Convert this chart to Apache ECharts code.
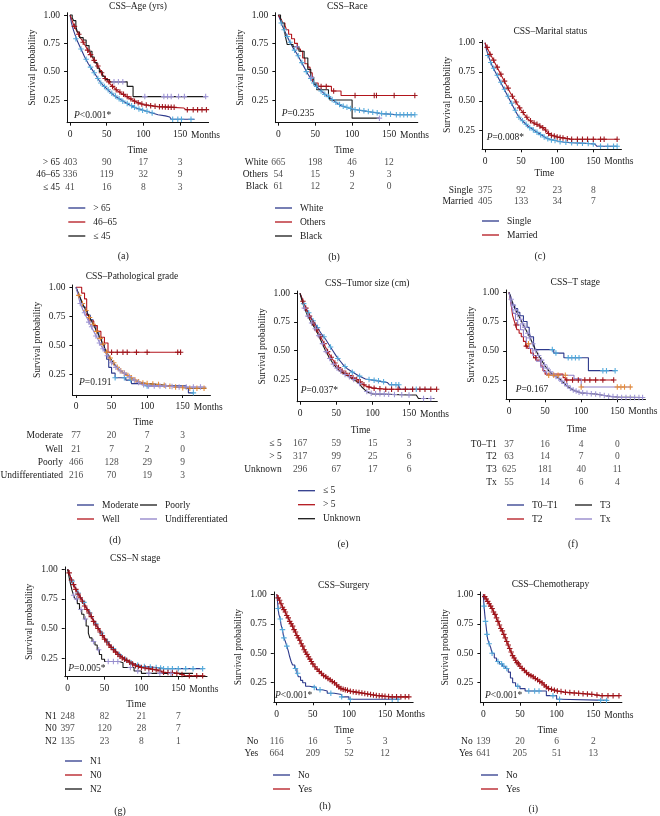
<!DOCTYPE html>
<html><head><meta charset="utf-8">
<script src="https://cdn.jsdelivr.net/npm/echarts@6/dist/echarts.min.js"></script>
<style>html,body{margin:0;padding:0;background:#fff}#c{width:660px;height:816px}</style>
</head><body><div id="c"></div>
<script>
// ---------------- DATA ----------------
const riskTimes = [0, 50, 100, 150];
const xTicks = [0, 50, 100, 150];
const yTicks = [0.25, 0.5, 0.75, 1];

// (a) Age
const age_groups = ['> 65', '46–65', '≤ 45'];
const age_gt65 = [[0,1],[2,0.93],[5,0.86],[10,0.77],[15,0.70],[20,0.63],[25,0.57],[30,0.52],[35,0.47],[40,0.42],[45,0.38],[50,0.35],[55,0.32],[60,0.29],[70,0.25],[80,0.21],[90,0.18],[100,0.16],[110,0.14],[120,0.12],[130,0.11],[136,0.10],[138,0.08],[170,0.08]];
const age_gt65_c = [[8,0.79],[15,0.70],[22,0.61],[28,0.54],[33,0.49],[38,0.44],[42,0.40],[47,0.37],[52,0.34],[57,0.31],[62,0.285],[67,0.26],[72,0.24],[78,0.22],[84,0.20],[88,0.185],[94,0.17],[99,0.16],[105,0.15],[112,0.135],[140,0.08],[147,0.08],[152,0.08],[165,0.08]];
const age_4665 = [[0,1],[3,0.95],[5,0.91],[10,0.85],[15,0.79],[20,0.74],[25,0.68],[30,0.63],[35,0.58],[40,0.53],[45,0.47],[50,0.43],[55,0.39],[60,0.36],[65,0.33],[70,0.31],[75,0.29],[80,0.27],[85,0.25],[90,0.235],[95,0.22],[100,0.21],[110,0.20],[120,0.19],[140,0.185],[155,0.18],[158,0.165],[186,0.165]];
const age_4665_c = [[6,0.90],[12,0.83],[18,0.76],[24,0.69],[28,0.65],[33,0.60],[38,0.55],[43,0.49],[48,0.44],[53,0.41],[58,0.37],[63,0.34],[68,0.32],[73,0.30],[78,0.28],[83,0.26],[88,0.24],[93,0.225],[98,0.215],[104,0.205],[110,0.20],[116,0.195],[122,0.19],[126,0.19],[130,0.188],[134,0.187],[138,0.186],[142,0.185],[160,0.165],[168,0.165],[174,0.165],[180,0.165],[186,0.165]];
const age_le45 = [[0,1],[3,0.975],[5,0.95],[8,0.90],[10,0.85],[13,0.80],[18,0.78],[22,0.73],[26,0.68],[30,0.63],[33,0.58],[37,0.53],[40,0.50],[44,0.46],[48,0.43],[54,0.41],[78,0.37],[86,0.28],[185,0.28]];
const age_le45_c = [[60,0.41],[66,0.41],[72,0.41],[102,0.28],[128,0.28],[133,0.28],[138,0.28],[148,0.28],[156,0.28],[185,0.28]];
const age_risk = [[403,90,17,3],[336,119,32,9],[41,16,8,3]];

// (b) Race
const race_groups = ['White', 'Others', 'Black'];
const race_white = [[0,1],[3,0.95],[5,0.91],[10,0.84],[15,0.77],[20,0.71],[25,0.66],[30,0.60],[35,0.54],[40,0.48],[45,0.43],[50,0.38],[55,0.35],[60,0.32],[65,0.29],[70,0.27],[75,0.245],[80,0.22],[85,0.20],[90,0.19],[100,0.17],[110,0.16],[120,0.15],[130,0.14],[140,0.13],[150,0.125],[160,0.12],[185,0.12]];
const race_white_c = [[4,0.93],[8,0.87],[12,0.81],[16,0.76],[22,0.69],[27,0.64],[32,0.58],[38,0.50],[44,0.44],[48,0.40],[52,0.37],[58,0.33],[63,0.30],[68,0.28],[73,0.255],[78,0.23],[83,0.21],[88,0.195],[93,0.185],[98,0.175],[104,0.165],[110,0.16],[116,0.155],[122,0.148],[128,0.142],[134,0.137],[140,0.13],[146,0.127],[152,0.124],[160,0.12],[165,0.12],[170,0.12],[175,0.12],[180,0.12],[185,0.12]];
const race_others = [[0,1],[2,0.98],[4,0.96],[6,0.93],[9,0.91],[11,0.87],[14,0.83],[18,0.79],[22,0.75],[26,0.70],[30,0.68],[33,0.62],[36,0.57],[40,0.54],[43,0.49],[46,0.44],[48,0.40],[54,0.37],[72,0.33],[85,0.29],[185,0.29]];
const race_others_c = [[58,0.37],[65,0.37],[75,0.33],[104,0.29],[130,0.29],[133,0.29],[157,0.29],[185,0.29]];
const race_black = [[0,1],[3,0.97],[5,0.93],[8,0.87],[10,0.80],[12,0.74],[20,0.72],[28,0.68],[35,0.62],[40,0.52],[44,0.45],[48,0.39],[52,0.34],[68,0.30],[70,0.25],[100,0.09],[137,0.09]];
const race_black_c = [[25,0.72],[45,0.45],[137,0.09]];
const race_risk = [[665,198,46,12],[54,15,9,3],[61,12,2,0]];

// (c) Marital status
const ms_groups = ['Single', 'Married'];
const ms_single = [[0,1],[2,0.94],[5,0.88],[10,0.80],[15,0.74],[20,0.68],[25,0.62],[30,0.56],[35,0.50],[40,0.44],[45,0.38],[50,0.34],[55,0.31],[60,0.28],[65,0.26],[70,0.24],[75,0.22],[80,0.20],[85,0.18],[90,0.17],[100,0.155],[110,0.145],[120,0.14],[140,0.135],[152,0.13],[155,0.11],[183,0.11]];
const ms_single_c = [[4,0.89],[8,0.83],[12,0.78],[17,0.72],[22,0.66],[27,0.60],[32,0.54],[37,0.48],[42,0.42],[47,0.36],[52,0.33],[57,0.30],[62,0.27],[67,0.25],[72,0.23],[77,0.21],[82,0.19],[87,0.175],[92,0.165],[97,0.16],[104,0.15],[112,0.145],[120,0.14],[128,0.138],[135,0.136],[143,0.134],[150,0.13],[160,0.11],[170,0.11],[178,0.11],[183,0.11]];
const ms_married = [[0,1],[2,0.97],[5,0.93],[10,0.87],[15,0.81],[20,0.75],[25,0.69],[30,0.63],[35,0.57],[40,0.52],[45,0.47],[50,0.42],[55,0.38],[60,0.34],[65,0.32],[70,0.30],[75,0.29],[80,0.27],[85,0.24],[90,0.21],[95,0.20],[100,0.19],[110,0.18],[120,0.17],[183,0.17]];
const ms_married_c = [[3,0.96],[7,0.90],[12,0.85],[17,0.79],[22,0.73],[27,0.67],[32,0.61],[38,0.54],[43,0.49],[48,0.44],[53,0.40],[58,0.36],[63,0.33],[68,0.31],[72,0.30],[76,0.285],[80,0.27],[84,0.25],[88,0.22],[92,0.205],[96,0.198],[100,0.19],[104,0.185],[108,0.182],[114,0.175],[120,0.17],[128,0.17],[135,0.17],[142,0.17],[150,0.17],[160,0.17],[165,0.17],[183,0.17]];
const ms_risk = [[375,92,23,8],[405,133,34,7]];

// (d) Pathological grade
const pg_groups = ['Moderate', 'Well', 'Poorly', 'Undifferentiated'];
const pg_moderate = [[0,1],[2,0.97],[4,0.94],[6,0.91],[8,0.87],[10,0.83],[13,0.80],[16,0.76],[20,0.72],[24,0.67],[28,0.62],[32,0.57],[36,0.51],[40,0.45],[43,0.38],[46,0.31],[50,0.26],[55,0.22],[70,0.20],[78,0.17],[100,0.15],[155,0.13],[158,0.09],[165,0.09]];
const pg_moderate_c = [[55,0.22],[68,0.22],[77,0.20],[100,0.15],[165,0.09]];
const pg_well = [[0,1],[8,0.95],[12,0.90],[15,0.76],[18,0.71],[25,0.67],[30,0.62],[35,0.57],[40,0.52],[45,0.44],[148,0.44]];
const pg_well_c = [[50,0.44],[58,0.44],[66,0.44],[72,0.44],[85,0.44],[100,0.44],[143,0.44],[147,0.44]];
const pg_poorly = [[0,1],[3,0.95],[5,0.92],[10,0.85],[15,0.79],[20,0.73],[25,0.67],[30,0.61],[35,0.55],[40,0.48],[45,0.42],[50,0.37],[55,0.33],[60,0.29],[65,0.27],[70,0.25],[75,0.23],[80,0.21],[90,0.18],[100,0.17],[110,0.165],[120,0.16],[140,0.14],[160,0.13],[183,0.13]];
const pg_poorly_c = [[4,0.93],[9,0.86],[14,0.80],[19,0.74],[24,0.68],[29,0.62],[34,0.56],[38,0.51],[43,0.44],[48,0.39],[53,0.35],[58,0.31],[63,0.28],[68,0.26],[73,0.24],[78,0.22],[83,0.20],[88,0.185],[94,0.175],[100,0.17],[108,0.166],[116,0.162],[124,0.156],[132,0.148],[140,0.14],[150,0.135],[160,0.13],[170,0.13],[180,0.13]];
const pg_undiff = [[0,1],[3,0.93],[5,0.88],[10,0.80],[15,0.74],[20,0.68],[25,0.62],[30,0.56],[35,0.50],[40,0.45],[45,0.40],[50,0.35],[55,0.32],[60,0.29],[70,0.25],[80,0.21],[90,0.17],[100,0.15],[130,0.15],[140,0.14],[183,0.14]];
const pg_undiff_c = [[6,0.86],[12,0.78],[18,0.70],[22,0.66],[28,0.58],[33,0.52],[38,0.47],[44,0.41],[50,0.35],[56,0.31],[62,0.28],[68,0.26],[75,0.23],[82,0.20],[88,0.18],[95,0.16],[102,0.15],[110,0.15],[118,0.15],[126,0.15],[135,0.145],[145,0.14],[155,0.14],[165,0.14],[175,0.14]];
const pg_risk = [[77,20,7,3],[21,7,2,0],[466,128,29,9],[216,70,19,3]];

// (e) Tumor size
const ts_groups = ['≤ 5', '> 5', 'Unknown'];
const ts_le5 = [[0,1],[3,0.95],[5,0.91],[10,0.85],[15,0.79],[20,0.74],[25,0.69],[30,0.64],[35,0.60],[40,0.55],[45,0.50],[50,0.45],[55,0.41],[60,0.37],[65,0.34],[70,0.32],[75,0.30],[80,0.28],[90,0.25],[100,0.24],[120,0.22],[123,0.20],[135,0.20],[138,0.16],[180,0.16]];
const ts_le5_c = [[5,0.91],[12,0.83],[18,0.76],[24,0.70],[33,0.62],[42,0.53],[52,0.43],[62,0.36],[72,0.31],[82,0.275],[95,0.245],[102,0.24],[108,0.235],[115,0.225],[126,0.20],[132,0.20],[136,0.20],[160,0.16]];
const ts_gt5 = [[0,1],[3,0.95],[5,0.92],[10,0.84],[15,0.78],[20,0.72],[25,0.66],[30,0.60],[35,0.53],[40,0.47],[45,0.42],[50,0.37],[55,0.34],[60,0.31],[65,0.29],[70,0.27],[75,0.255],[80,0.24],[85,0.21],[90,0.19],[100,0.17],[110,0.165],[120,0.16],[188,0.16]];
const ts_gt5_c = [[4,0.93],[8,0.87],[13,0.80],[18,0.74],[23,0.68],[28,0.62],[33,0.56],[38,0.49],[43,0.44],[48,0.39],[53,0.35],[58,0.32],[63,0.30],[68,0.28],[73,0.26],[78,0.245],[83,0.225],[88,0.20],[95,0.18],[102,0.17],[110,0.165],[118,0.16],[126,0.16],[135,0.16],[145,0.16],[155,0.16],[165,0.16],[172,0.16],[180,0.16],[188,0.16]];
const ts_unk = [[0,1],[3,0.93],[5,0.89],[10,0.81],[15,0.75],[20,0.70],[25,0.64],[30,0.57],[35,0.50],[40,0.44],[45,0.39],[50,0.35],[55,0.32],[60,0.30],[65,0.28],[70,0.26],[75,0.24],[80,0.22],[85,0.18],[90,0.15],[95,0.13],[100,0.12],[150,0.11],[160,0.11],[163,0.08],[185,0.08]];
const ts_unk_c = [[6,0.87],[11,0.80],[16,0.74],[21,0.69],[26,0.63],[31,0.56],[36,0.49],[41,0.43],[46,0.38],[51,0.345],[56,0.32],[62,0.29],[68,0.27],[74,0.245],[82,0.21],[92,0.14],[98,0.125],[104,0.12],[110,0.12],[116,0.118],[122,0.117],[130,0.115],[140,0.112],[150,0.11],[170,0.08],[180,0.08]];
const ts_risk = [[167,59,15,3],[317,99,25,6],[296,67,17,6]];

// (f) T stage
const tst_groups = ['T0–T1', 'T2', 'T3', 'Tx'];
const tst_t01 = [[0,1],[2,0.97],[3,0.95],[5,0.89],[8,0.86],[12,0.83],[15,0.80],[20,0.75],[25,0.70],[28,0.65],[30,0.62],[34,0.57],[36,0.51],[62,0.48],[76,0.44],[110,0.33],[147,0.33]];
const tst_t01_c = [[60,0.51],[65,0.48],[82,0.44],[87,0.44],[92,0.44],[97,0.44],[130,0.33],[135,0.33],[147,0.33]];
const tst_t2 = [[0,1],[2,0.93],[4,0.85],[5,0.80],[7,0.76],[9,0.72],[11,0.68],[14,0.65],[17,0.62],[20,0.58],[23,0.54],[26,0.52],[30,0.48],[34,0.44],[38,0.42],[44,0.37],[47,0.33],[50,0.30],[75,0.27],[78,0.25],[145,0.25]];
const tst_t2_c = [[10,0.72],[24,0.54],[37,0.44],[80,0.25],[88,0.25],[96,0.25],[105,0.25],[112,0.25],[120,0.25],[130,0.25],[145,0.25]];
const tst_t3 = [[0,1],[3,0.94],[5,0.91],[10,0.84],[15,0.78],[20,0.72],[25,0.66],[30,0.60],[35,0.53],[40,0.47],[45,0.42],[50,0.37],[55,0.33],[60,0.30],[65,0.28],[70,0.26],[75,0.23],[80,0.20],[85,0.18],[90,0.16],[100,0.14],[110,0.135],[120,0.13],[130,0.12],[140,0.11],[150,0.105],[185,0.10]];
const tst_t3_c = [[3,0.94],[6,0.89],[9,0.85],[12,0.81],[16,0.77],[19,0.73],[22,0.70],[26,0.65],[29,0.61],[33,0.56],[37,0.50],[41,0.46],[45,0.42],[49,0.38],[53,0.35],[57,0.32],[61,0.30],[65,0.28],[69,0.265],[73,0.24],[77,0.22],[81,0.20],[85,0.18],[89,0.165],[93,0.155],[97,0.145],[102,0.14],[108,0.136],[114,0.133],[120,0.13],[126,0.124],[132,0.118],[138,0.112],[144,0.108],[150,0.105],[156,0.10],[162,0.10],[168,0.10],[174,0.10],[180,0.10],[185,0.10]];
const tst_tx = [[0,1],[2,0.93],[4,0.87],[6,0.82],[9,0.76],[12,0.72],[16,0.68],[20,0.62],[24,0.56],[28,0.52],[33,0.46],[38,0.41],[44,0.36],[48,0.32],[52,0.29],[90,0.26],[100,0.19],[170,0.19]];
const tst_tx_c = [[27,0.56],[55,0.29],[62,0.29],[68,0.29],[78,0.29],[100,0.19],[150,0.19],[155,0.19],[160,0.19],[168,0.19]];
const tst_risk = [[37,16,4,0],[63,14,7,0],[625,181,40,11],[55,14,6,4]];

// (g) N stage
const ns_groups = ['N1', 'N0', 'N2'];
const ns_n1 = [[0,1],[3,0.95],[5,0.91],[10,0.85],[15,0.79],[20,0.74],[25,0.68],[30,0.63],[35,0.57],[40,0.52],[45,0.47],[50,0.42],[55,0.38],[60,0.34],[65,0.31],[70,0.28],[75,0.255],[80,0.23],[85,0.215],[90,0.20],[100,0.18],[110,0.175],[120,0.17],[130,0.16],[183,0.16]];
const ns_n1_c = [[6,0.90],[14,0.80],[22,0.72],[30,0.63],[38,0.54],[46,0.46],[54,0.39],[62,0.33],[70,0.28],[78,0.24],[86,0.21],[95,0.19],[104,0.178],[112,0.174],[120,0.17],[126,0.165],[130,0.16],[136,0.16],[142,0.16],[150,0.16],[160,0.16],[170,0.16],[183,0.16]];
const ns_n0 = [[0,1],[3,0.95],[5,0.91],[10,0.84],[15,0.78],[20,0.73],[25,0.67],[30,0.62],[35,0.56],[40,0.51],[45,0.46],[50,0.41],[55,0.37],[60,0.33],[65,0.30],[70,0.27],[75,0.25],[80,0.23],[85,0.21],[90,0.19],[100,0.17],[110,0.16],[120,0.15],[130,0.13],[140,0.125],[150,0.12],[160,0.10],[183,0.10]];
const ns_n0_c = [[2,0.97],[5,0.91],[8,0.87],[11,0.83],[14,0.79],[17,0.76],[20,0.73],[23,0.69],[26,0.66],[29,0.63],[32,0.60],[35,0.56],[38,0.53],[41,0.50],[44,0.47],[47,0.44],[50,0.41],[53,0.385],[56,0.36],[59,0.34],[62,0.32],[65,0.30],[68,0.28],[71,0.265],[74,0.25],[77,0.24],[80,0.23],[84,0.215],[88,0.20],[92,0.185],[96,0.178],[100,0.17],[105,0.165],[110,0.16],[115,0.155],[120,0.15],[125,0.14],[130,0.13],[136,0.127],[142,0.124],[148,0.12],[155,0.11],[165,0.10],[175,0.10],[183,0.10]];
const ns_n2 = [[0,1],[2,0.93],[4,0.87],[6,0.82],[8,0.78],[10,0.75],[13,0.71],[16,0.66],[19,0.62],[22,0.58],[25,0.52],[28,0.46],[30,0.42],[33,0.39],[37,0.36],[40,0.32],[43,0.28],[46,0.24],[50,0.22],[70,0.21],[75,0.17],[90,0.14],[100,0.12],[170,0.12]];
const ns_n2_c = [[8,0.78],[12,0.75],[18,0.66],[24,0.58],[35,0.39],[42,0.32],[55,0.22],[62,0.22],[68,0.22],[85,0.17],[95,0.14],[110,0.12],[125,0.12],[140,0.12]];
const ns_risk = [[248,82,21,7],[397,120,28,7],[135,23,8,1]];

// (h) Surgery
const sg_groups = ['No', 'Yes'];
const sg_no = [[0,1],[1,0.95],[2,0.88],[3,0.83],[5,0.79],[6,0.74],[8,0.70],[9,0.66],[10,0.63],[12,0.60],[14,0.56],[16,0.52],[18,0.47],[20,0.43],[22,0.40],[25,0.37],[28,0.33],[30,0.30],[33,0.27],[36,0.25],[40,0.22],[45,0.21],[55,0.19],[63,0.18],[70,0.16],[80,0.15],[90,0.13],[100,0.11],[170,0.11]];
const sg_no_c = [[2,0.88],[5,0.79],[8,0.70],[10,0.63],[14,0.56],[26,0.37],[29,0.33],[52,0.21],[60,0.19],[75,0.16],[90,0.13],[102,0.11],[160,0.11],[168,0.11]];
const sg_yes = [[0,1],[3,0.96],[5,0.93],[10,0.87],[15,0.81],[20,0.75],[25,0.69],[30,0.63],[35,0.57],[40,0.51],[45,0.46],[50,0.41],[55,0.37],[60,0.34],[65,0.31],[70,0.29],[75,0.27],[80,0.25],[85,0.22],[90,0.20],[95,0.19],[100,0.18],[110,0.17],[120,0.16],[130,0.15],[140,0.14],[150,0.135],[160,0.13],[183,0.13]];
const sg_yes_c = [[2,0.97],[4,0.95],[6,0.92],[8,0.89],[10,0.87],[12,0.85],[14,0.82],[16,0.80],[18,0.77],[20,0.75],[22,0.73],[24,0.70],[26,0.68],[28,0.65],[30,0.63],[32,0.61],[34,0.58],[36,0.56],[38,0.53],[40,0.51],[42,0.49],[44,0.47],[46,0.45],[48,0.43],[50,0.41],[53,0.385],[56,0.365],[59,0.345],[62,0.33],[65,0.31],[68,0.30],[71,0.285],[74,0.275],[77,0.26],[80,0.25],[83,0.23],[86,0.215],[89,0.20],[92,0.195],[95,0.19],[98,0.185],[102,0.178],[106,0.174],[110,0.17],[114,0.166],[118,0.162],[122,0.158],[126,0.154],[130,0.15],[134,0.146],[138,0.142],[142,0.14],[146,0.137],[150,0.135],[155,0.132],[160,0.13],[166,0.13],[172,0.13],[178,0.13],[183,0.13]];
const sg_risk = [[116,16,5,3],[664,209,52,12]];

// (i) Chemotherapy
const ch_groups = ['No', 'Yes'];
const ch_no = [[0,1],[1,0.90],[2,0.83],[3,0.77],[4,0.72],[5,0.66],[6,0.62],[8,0.58],[10,0.55],[12,0.50],[15,0.46],[18,0.43],[22,0.41],[26,0.39],[30,0.37],[34,0.34],[37,0.29],[40,0.25],[44,0.22],[50,0.20],[57,0.18],[86,0.14],[100,0.11],[105,0.10],[170,0.10]];
const ch_no_c = [[1,0.90],[3,0.77],[5,0.66],[8,0.58],[12,0.50],[20,0.43],[25,0.41],[28,0.39],[32,0.37],[47,0.22],[62,0.18],[70,0.18],[76,0.18],[95,0.14],[104,0.11],[160,0.10],[168,0.10]];
const ch_yes = [[0,1],[3,0.97],[5,0.95],[10,0.90],[15,0.84],[20,0.77],[25,0.70],[30,0.63],[35,0.55],[40,0.48],[45,0.43],[50,0.39],[55,0.36],[60,0.33],[65,0.31],[70,0.29],[75,0.27],[80,0.25],[85,0.22],[90,0.20],[100,0.18],[110,0.17],[120,0.165],[130,0.16],[150,0.15],[160,0.14],[185,0.14]];
const ch_yes_c = [[2,0.98],[4,0.96],[6,0.94],[8,0.92],[10,0.90],[12,0.88],[14,0.85],[16,0.83],[18,0.80],[20,0.77],[22,0.74],[24,0.71],[26,0.69],[28,0.66],[30,0.63],[32,0.60],[34,0.57],[36,0.54],[38,0.51],[40,0.48],[42,0.46],[44,0.44],[46,0.42],[48,0.41],[50,0.39],[53,0.37],[56,0.355],[59,0.335],[62,0.32],[65,0.31],[68,0.30],[71,0.285],[74,0.275],[77,0.26],[80,0.25],[83,0.23],[86,0.215],[89,0.20],[93,0.195],[97,0.187],[101,0.179],[106,0.175],[112,0.169],[118,0.166],[124,0.163],[130,0.16],[136,0.157],[142,0.154],[148,0.151],[155,0.145],[162,0.14],[170,0.14],[177,0.14],[185,0.14]];
const ch_risk = [[139,20,6,2],[641,205,51,13]];

// ---------------- STYLE / LAYOUT ----------------
const FONT = '"Liberation Serif","Times New Roman",serif';
const FS = 9.5;
const TXT = '#1a1a1a';
const NAVY = '#2e3a8c', RED = '#b3151c', BLACK = '#1a1a1a', PURPLE = '#8e80c8';
const LB = '#4fa8da', DR = '#9b1016', LAV = '#9c92d4', ORG = '#e8892f';
const PLUS = 'path://M4,0H6V4H10V6H6V10H4V6H0V4H4Z';

const panels = [
  {title:'CSS–Age (yrs)', groups:age_groups, curves:[age_gt65,age_4665,age_le45], cens:[age_gt65_c,age_4665_c,age_le45_c], step:[false,false,true], risk:age_risk, p:'{i|P}<0.001*',
   lc:[NAVY,RED,BLACK], mc:[LB,DR,LAV],
   L:{X0:70,X150:180,Y1:15,Y025:100,ymin:0.05,title:[138,6],time:[137.3,150],tab:[162,12.5,60],leg:[[68.3,208,[0,1,2]]],pv:[74,115],letter:[123.3,256.7],lab:'(a)'}},
  {title:'CSS–Race', groups:race_groups, curves:[race_white,race_others,race_black], cens:[race_white_c,race_others_c,race_black_c], step:[false,true,true], risk:race_risk, p:'{i|P}=0.235',
   lc:[NAVY,RED,BLACK], mc:[LB,DR,LAV],
   L:{X0:278.3,X150:389,Y1:15,Y025:100,ymin:0.05,title:[347.3,6],time:[344,150],tab:[162,12,268],leg:[[275,208,[0,1,2]]],pv:[281.7,113.3],letter:[334,257],lab:'(b)'}},
  {title:'CSS–Marital status', groups:ms_groups, curves:[ms_single,ms_married], cens:[ms_single_c,ms_married_c], step:[false,false], risk:ms_risk, p:'{i|P}=0.008*',
   lc:[NAVY,RED], mc:[LB,DR],
   L:{X0:485,X150:593.3,Y1:42.7,Y025:130,ymin:0.084,title:[550.3,31],time:[544.3,173.3],tab:[190,11.7,473],leg:[[482,221,[0,1]]],pv:[486.7,137.7],letter:[540,256.7],lab:'(c)'}},
  {title:'CSS–Pathological grade', groups:pg_groups, curves:[pg_moderate,pg_well,pg_poorly,pg_undiff], cens:[pg_moderate_c,pg_well_c,pg_poorly_c,pg_undiff_c], step:[true,true,false,false], risk:pg_risk, p:'{i|P}=0.191',
   lc:[NAVY,RED,BLACK,PURPLE], mc:[LB,DR,ORG,LAV],
   L:{X0:76,X150:182.7,Y1:287.3,Y025:374.3,ymin:0.072,xmin:-5,title:[132,276.7],time:[143.3,422.7],tab:[435.7,13.3,63],leg:[[77,505,[0,1]],[140,505,[2,3]]],pv:[79,382.7],letter:[115,540],lab:'(d)'}},
  {title:'CSS–Tumor size (cm)', groups:ts_groups, curves:[ts_le5,ts_gt5,ts_unk], cens:[ts_le5_c,ts_gt5_c,ts_unk_c], step:[false,false,false], risk:ts_risk, p:'{i|P}=0.037*',
   lc:[NAVY,RED,BLACK], mc:[LB,DR,LAV],
   L:{X0:300,X150:409,Y1:293.3,Y025:379,ymin:0.051,title:[367.2,283.3],time:[360.7,430.7],tab:[443.3,13,281.7],leg:[[298,490.7,[0,1,2]]],pv:[300.7,390.7],letter:[343,544],lab:'(e)'}},
  {title:'CSS–T stage', groups:tst_groups, curves:[tst_t01,tst_t2,tst_t3,tst_tx], cens:[tst_t01_c,tst_t2_c,tst_t3_c,tst_tx_c], step:[true,true,false,true], risk:tst_risk, p:'{i|P}=0.167',
   lc:[NAVY,RED,BLACK,PURPLE], mc:[LB,DR,LAV,ORG],
   L:{X0:509,X150:617.3,Y1:292.3,Y025:380,ymin:0.085,title:[575.3,282.7],time:[576.7,429],tab:[444,12.7,496.7],leg:[[507,505,[0,1]],[575,505,[2,3]]],pv:[515.7,389.3],letter:[573,544],lab:'(f)'}},
  {title:'CSS–N stage', groups:ns_groups, curves:[ns_n1,ns_n0,ns_n2], cens:[ns_n1_c,ns_n0_c,ns_n2_c], step:[false,false,true], risk:ns_risk, p:'{i|P}=0.005*',
   lc:[NAVY,RED,BLACK], mc:[LB,DR,LAV],
   L:{X0:67.7,X150:178.3,Y1:569.3,Y025:658,ymin:0.092,title:[135.2,558.3],time:[136,704.3],tab:[716,12.9,56.7],leg:[[65,761,[0,1,2]]],pv:[68.3,668.3],letter:[120,811],lab:'(g)'}},
  {title:'CSS–Surgery', groups:sg_groups, curves:[sg_no,sg_yes], cens:[sg_no_c,sg_yes_c], step:[true,false], risk:sg_risk, p:'{i|P}<0.001*',
   lc:[NAVY,RED], mc:[LB,DR],
   L:{X0:276.7,X150:385,Y1:594.3,Y025:682.7,ymin:0.084,title:[343.8,585],time:[344,730.7],tab:[741.7,11.6,258.3],leg:[[273,775,[0,1]]],pv:[275,695],letter:[325,806.7],lab:'(h)'}},
  {title:'CSS–Chemotherapy', groups:ch_groups, curves:[ch_no,ch_yes], cens:[ch_no_c,ch_yes_c], step:[true,false], risk:ch_risk, p:'{i|P}<0.001*',
   lc:[NAVY,RED], mc:[LB,DR],
   L:{X0:483.3,X150:593.3,Y1:594.3,Y025:682.7,ymin:0.08,title:[550.5,584.3],time:[547.3,730.7],tab:[741.7,11.6,472.7],leg:[[481,775,[0,1]]],pv:[485,695],letter:[533.3,809.3],lab:'(i)'}}
];

// ---------------- BUILD ----------------
const grid = [], xAxis = [], yAxis = [], series = [], legend = [], graphic = [];
function txt(x, y, text, opt) {
  opt = opt || {};
  graphic.push({type:'text', x, y, rotation: opt.rot || 0, silent:true,
    style:{text, fill:TXT, fontFamily:FONT, fontSize: opt.fs || FS,
      align: opt.align || 'center', verticalAlign:'middle',
      rich:{i:{fontStyle:'italic', fontFamily:FONT, fontSize: opt.fs || FS, fill:TXT}}}});
}

panels.forEach((P, k) => {
  const L = P.L;
  const xmin = L.xmin != null ? L.xmin : -4, xmax = 189, ymax = 1.02;
  const sx = (L.X150 - L.X0) / 150;
  const sy = (L.Y025 - L.Y1) / 0.75;
  const left = L.X0 + xmin * sx, width = (xmax - xmin) * sx;
  const top = L.Y1 - (ymax - 1) * sy, height = (ymax - L.ymin) * sy;
  const gi = grid.length;
  grid.push({left, top, width, height, containLabel:false, outerBoundsMode:'none'});
  xAxis.push({type:'value', gridIndex:gi, min:xmin, max:xmax,
    axisLine:{show:true, onZero:false, lineStyle:{color:'#111', width:1}},
    axisTick:{show:true, length:3, customValues:xTicks, lineStyle:{color:'#111'}},
    axisLabel:{show:true, customValues:xTicks, margin:7, fontSize:FS, fontFamily:FONT, color:TXT, hideOverlap:false},
    splitLine:{show:false}});
  yAxis.push({type:'value', gridIndex:gi, min:L.ymin, max:ymax,
    axisLine:{show:true, onZero:false, lineStyle:{color:'#111', width:1}},
    axisTick:{show:true, length:3, customValues:yTicks, lineStyle:{color:'#111'}},
    axisLabel:{show:true, customValues:yTicks, margin:7, fontSize:FS, fontFamily:FONT, color:TXT, formatter:v => v.toFixed(2)},
    splitLine:{show:false}});
  P.curves.forEach((c, j) => {
    series.push({type:'line', name:P.groups[j], xAxisIndex:gi, yAxisIndex:gi, data:c,
      step: P.step[j] ? 'end' : false, symbol:'none', silent:true, z:2,
      lineStyle:{color:P.lc[j], width:1.1}, itemStyle:{color:P.lc[j]}});
  });
  P.cens.forEach((c, j) => {
    series.push({type:'scatter', name:P.groups[j] + ' (censored)', xAxisIndex:gi, yAxisIndex:gi, data:c,
      symbol:PLUS, symbolSize:5.5, silent:true, z:3, itemStyle:{color:P.mc[j], opacity:0.95}});
  });
  // risk table grid
  const n = P.groups.length, d = L.tab[1];
  const tgi = grid.length;
  grid.push({left, top: L.tab[0] - d / 2, width, height: n * d, containLabel:false, outerBoundsMode:'none'});
  xAxis.push({type:'value', gridIndex:tgi, min:xmin, max:xmax, show:false});
  yAxis.push({type:'category', gridIndex:tgi, data:P.groups, inverse:true,
    axisLine:{show:false}, axisTick:{show:false}, splitLine:{show:false},
    axisLabel:{show:true, interval:0, hideOverlap:false, margin: left - L.tab[2], fontSize:FS, fontFamily:FONT, color:TXT, align:'right'}});
  const rd = [];
  P.risk.forEach((row, r) => row.forEach((v, t) => rd.push([riskTimes[t], r, v])));
  series.push({type:'scatter', name:'risk' + k, xAxisIndex:tgi, yAxisIndex:tgi, data:rd, symbolSize:1, silent:true,
    itemStyle:{color:'rgba(0,0,0,0)'},
    label:{show:true, position:'inside', formatter:p => String(p.value[2]), fontSize:FS, fontFamily:FONT, color:TXT}});
  // legends
  L.leg.forEach(lg => {
    legend.push({data: lg[2].map(i => P.groups[i]), orient:'vertical', left: lg[0], top: lg[1] - 6,
      icon:'rect', itemWidth:17, itemHeight:1.3, itemGap:2, padding:0, selectedMode:false,
      textStyle:{fontSize:FS, fontFamily:FONT, color:TXT, lineHeight:12, padding:[0,0,0,3]}});
  });
  // texts
  txt(L.title[0], L.title[1], P.title);
  txt(L.time[0], L.time[1], 'Time');
  txt(L.X150 + 11, top + height + 12.5, 'Months', {align:'left'});
  txt(left - 35, top + height / 2, 'Survival probability', {rot: Math.PI / 2});
  txt(L.pv[0], L.pv[1], P.p, {align:'left'});
  txt(L.letter[0], L.letter[1], L.lab, {fs:10});
});

const chart = echarts.init(document.getElementById('c'), null, {renderer:'canvas'});
chart.setOption({backgroundColor:'#fff', animation:false, grid, xAxis, yAxis, series, legend, graphic});
</script></body></html>
